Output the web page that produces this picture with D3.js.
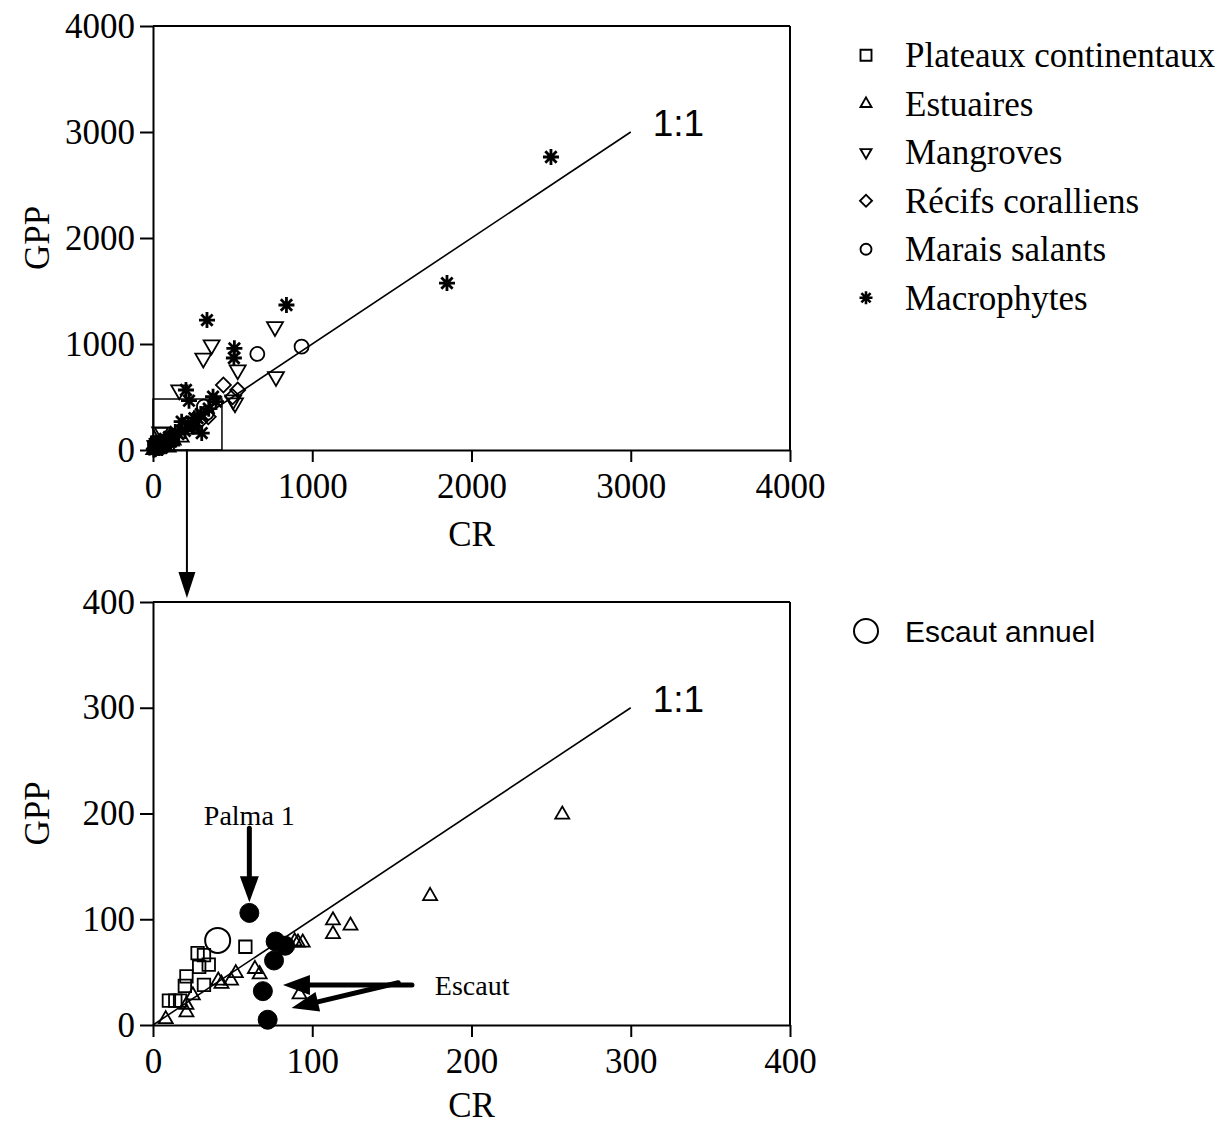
<!DOCTYPE html>
<html>
<head>
<meta charset="utf-8">
<script src="https://cdn.jsdelivr.net/npm/d3@7"></script>
<style>
  html, body { margin: 0; padding: 0; background: #fff; }
  svg { display: block; }
</style>
</head>
<body>
<svg id="chart" width="1230" height="1126"></svg>
<script>
// ---------------- DATA ----------------
const categories = ["Plateaux continentaux", "Estuaires", "Mangroves", "Récifs coralliens", "Marais salants", "Macrophytes"];
const symbolKeys = ["square", "triangle", "triangleDown", "diamond", "circle", "asterisk"];

// [CR, GPP]
const plateaux = [[58,74],[28,68],[32,66],[29,55],[35,57],[21,46],[20,37],[32,38],[10,23],[14,23],[17,23]];
const estuaires = [[8,5.5],[21,12],[21,19],[25,28],[41,42],[43,39],[49,42],[52,49],[64,53],[67,48],
                   [89,79],[91,78],[94,78],[92,29],[113,99],[113,86],[124,94],[174,122],[257,199]];
const mangroves = [[766,1163],[368,991],[316,865],[532,755],[772,692],[515,443],[503,472],[165,566],[45,170],[62,165],[30,60],[15,40]];
const recifs = [[442,613],[532,566],[500,503],[347,314],[300,280],[250,230],[60,50],[90,70]];
const marais = [[933,975],[655,906],[320,409],[337,349],[120,110],[40,30]];
const macrophytes = [[2499,2764],[1846,1575],[838,1368],[339,1226],[511,959],[508,868],[207,566],[226,465],
                     [377,503],[396,456],[180,267],[306,160],[280,300],[250,220],[220,250],[200,180],[160,150],
                     [140,170],[120,100],[100,120],[80,70],[60,50],[40,60],[30,30],[20,20],[260,300],[300,340],[350,390],
                     [10,15],[15,8],[25,42],[35,18],[45,35],[50,72],[70,40],[90,92],[110,80],[130,130],[5,5],[55,20],[75,105]];
const escaut = [[60.5,106],[77,79],[83,75],[76,61],[69,32],[72,5]];
const escautAnnuel = [[40.6,80]];

const topTicks = [0,1000,2000,3000,4000];
const botTicks = [0,100,200,300,400];
const topOneToOne = [0,3000];
const botOneToOne = [0,300];
const insetBox = [433,481];     // CR, GPP extent of zoom box in top panel
const insetArrowCR = 213;
const palmaArrow = [[60.5,186],[60.5,116]];
const escautArrows = [[[162.6,37.8],[81.6,37.8]], [[154,40],[87,16]]];
const escautLabel = [177,37.8];
const palmaLabel = [60.5,199];

// ---------------- DRAWING ----------------
const svg = d3.select("#chart");
const SERIF = "'Liberation Serif', 'Times New Roman', serif";
const SANS = "'Liberation Sans', Arial, sans-serif";

const asteriskType = {
  draw(ctx, size) {
    const r = Math.sqrt(size) / 2;
    for (let k = 0; k < 4; k++) {
      const a = k * Math.PI / 4;
      ctx.moveTo(-r * Math.cos(a), -r * Math.sin(a));
      ctx.lineTo(r * Math.cos(a), r * Math.sin(a));
    }
  }
};

function symbolPath(key, px) {
  switch (key) {
    case "square": return d3.symbol(d3.symbolSquare, px * px)();
    case "triangle":
    case "triangleDown": return d3.symbol(d3.symbolTriangle, 0.433 * px * px)();
    case "diamond": return d3.symbol(d3.symbolSquare, px * px * 0.5)();
    case "circle": return d3.symbol(d3.symbolCircle, Math.PI * px * px / 4)();
    case "asterisk": return d3.symbol(asteriskType, px * px)();
  }
}
function symbolRotate(key) {
  if (key === "triangleDown") return 180;
  if (key === "diamond") return 45;
  return 0;
}

function drawPoints(g, data, x, y, key, px, opts = {}) {
  g.selectAll(null).data(data).enter().append("path")
    .attr("d", symbolPath(key, px))
    .attr("transform", d => `translate(${x(d[0])},${y(d[1])}) rotate(${symbolRotate(key)})`)
    .attr("fill", opts.fill || "none")
    .attr("stroke", "#000")
    .attr("stroke-width", opts.sw || (key === "asterisk" ? 2.8 : 1.8));
}

function drawPanel(cfg) {
  const { x, y, ticks } = cfg;
  const g = svg.append("g");
  const xr = x.range(), yr = y.range();

  const xAxis = d3.axisBottom(x).tickValues(ticks).tickSize(12).tickSizeOuter(0).tickPadding(11).tickFormat(d3.format("d"));
  const yAxis = d3.axisLeft(y).tickValues(ticks).tickSize(13).tickSizeOuter(0).tickPadding(5).tickFormat(d3.format("d"));

  const gx = g.append("g").attr("transform", `translate(0,${yr[0]})`).call(xAxis);
  const gy = g.append("g").attr("transform", `translate(${xr[0]},0)`).call(yAxis);
  [gx, gy].forEach(a => {
    a.selectAll("path.domain").attr("stroke-width", 2).attr("stroke", "#000");
    a.selectAll(".tick line").attr("stroke-width", 2).attr("stroke", "#000");
    a.selectAll(".tick text").attr("font-family", SERIF).attr("font-size", 35).attr("fill", "#000");
  });

  // frame top & right
  g.append("line").attr("x1", xr[0]).attr("x2", xr[1]).attr("y1", yr[1]).attr("y2", yr[1])
    .attr("stroke", "#000").attr("stroke-width", 2);
  g.append("line").attr("x1", xr[1]).attr("x2", xr[1]).attr("y1", yr[1]).attr("y2", yr[0])
    .attr("stroke", "#000").attr("stroke-width", 2);

  // titles
  g.append("text").attr("x", (xr[0] + xr[1]) / 2).attr("y", yr[0] + cfg.crOffset)
    .attr("text-anchor", "middle").attr("font-family", SERIF).attr("font-size", 35).text("CR");
  g.append("text").attr("transform", `translate(49,${(yr[0] + yr[1]) / 2}) rotate(-90)`)
    .attr("text-anchor", "middle").attr("font-family", SERIF).attr("font-size", 35).text("GPP");

  // 1:1 line
  const oo = cfg.oneToOne;
  g.append("line").attr("x1", x(oo[0])).attr("y1", y(oo[0])).attr("x2", x(oo[1])).attr("y2", y(oo[1]))
    .attr("stroke", "#000").attr("stroke-width", 1.6);
  g.append("text").attr("x", x(oo[1]) + 22).attr("y", y(oo[1]) + 4)
    .attr("font-family", SANS).attr("font-size", 37).text("1:1");
  return g;
}

// ---- Top panel ----
const xTop = d3.scaleLinear().domain([0, 4000]).range([153, 790]);
const yTop = d3.scaleLinear().domain([0, 4000]).range([450, 26]);
const gTop = drawPanel({ x: xTop, y: yTop, ticks: topTicks, oneToOne: topOneToOne, crOffset: 96 });

gTop.append("rect").attr("x", xTop(0)).attr("y", yTop(insetBox[1]))
  .attr("width", xTop(insetBox[0]) - xTop(0)).attr("height", yTop(0) - yTop(insetBox[1]))
  .attr("fill", "none").attr("stroke", "#000").attr("stroke-width", 1.5);

const topSeries = [plateaux, estuaires, mangroves, recifs, marais, macrophytes];
const topSizes = [13, 16, 16, 15, 14, 16];
topSeries.forEach((s, i) => drawPoints(gTop, s, xTop, yTop, symbolKeys[i], topSizes[i]));

// ---- Bottom panel ----
const xBot = d3.scaleLinear().domain([0, 400]).range([153, 790]);
const yBot = d3.scaleLinear().domain([0, 400]).range([1025, 602]);
const gBot = drawPanel({ x: xBot, y: yBot, ticks: botTicks, oneToOne: botOneToOne, crOffset: 92 });

drawPoints(gBot, plateaux, xBot, yBot, "square", 12.5, { sw: 1.8 });
drawPoints(gBot, estuaires, xBot, yBot, "triangle", 14, { sw: 1.8 });
drawPoints(gBot, escautAnnuel, xBot, yBot, "circle", 25, { sw: 2 });
drawPoints(gBot, escaut, xBot, yBot, "circle", 19, { fill: "#000", sw: 1 });

function arrow(g, x1, y1, x2, y2, sw, headLen, headW) {
  const ang = Math.atan2(y2 - y1, x2 - x1);
  const bx = x2 - headLen * Math.cos(ang), by = y2 - headLen * Math.sin(ang);
  g.append("line").attr("x1", x1).attr("y1", y1).attr("x2", bx).attr("y2", by)
    .attr("stroke", "#000").attr("stroke-width", sw).attr("stroke-linecap", "round");
  const nx = -Math.sin(ang) * headW / 2, ny = Math.cos(ang) * headW / 2;
  g.append("path").attr("d", `M${x2},${y2}L${bx + nx},${by + ny}L${bx - nx},${by - ny}Z`).attr("fill", "#000");
}
// inset arrow from top box to bottom panel
arrow(svg, xTop(insetArrowCR), yTop(0), xTop(insetArrowCR), yBot(400) - 4, 2, 26, 17);

// annotations
arrow(gBot, xBot(palmaArrow[0][0]), yBot(palmaArrow[0][1]), xBot(palmaArrow[1][0]), yBot(palmaArrow[1][1]), 5, 26, 19);
escautArrows.forEach(a => arrow(gBot, xBot(a[0][0]), yBot(a[0][1]), xBot(a[1][0]), yBot(a[1][1]), 5, 27, 20));
gBot.append("text").attr("x", xBot(palmaLabel[0])).attr("y", yBot(palmaLabel[1]) + 10)
  .attr("text-anchor", "middle").attr("font-family", SERIF).attr("font-size", 28).text("Palma 1");
gBot.append("text").attr("x", xBot(escautLabel[0])).attr("y", yBot(escautLabel[1]) + 10)
  .attr("font-family", SERIF).attr("font-size", 28).text("Escaut");

// ---- Legends ----
const legTop = svg.append("g");
const legRowY = d3.scaleBand().domain(categories).range([31, 322]);
categories.forEach((c, i) => {
  const cy = legRowY(c) + legRowY.bandwidth() / 2;
  const key = symbolKeys[i];
  legTop.append("path").attr("d", symbolPath(key, key === "asterisk" ? 13 : (key === "diamond" ? 12 : 11)))
    .attr("transform", `translate(866,${cy}) rotate(${symbolRotate(key)})`)
    .attr("fill", "none").attr("stroke", "#000").attr("stroke-width", key === "asterisk" ? 2.6 : 1.9);
  legTop.append("text").attr("x", 905).attr("y", cy + 12)
    .attr("font-family", SERIF).attr("font-size", 35).text(c);
});

const legBot = svg.append("g");
legBot.append("path").attr("d", symbolPath("circle", 24))
  .attr("transform", "translate(866,631)").attr("fill", "none").attr("stroke", "#000").attr("stroke-width", 2);
legBot.append("text").attr("x", 905).attr("y", 642)
  .attr("font-family", SANS).attr("font-size", 30).text("Escaut annuel");
</script>
</body>
</html>
